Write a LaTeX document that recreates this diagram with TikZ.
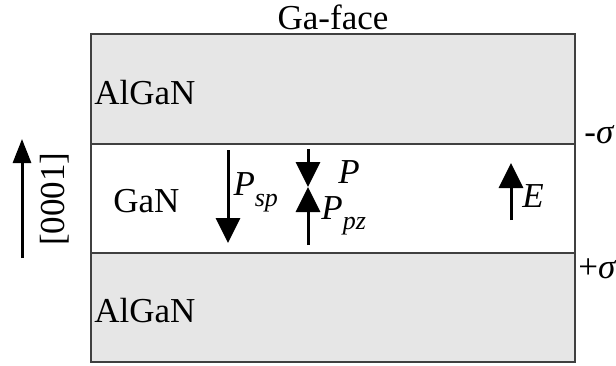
\documentclass[tikz,border=0pt]{standalone}
\usepackage{fontspec}
\setmainfont{Liberation Serif}
\usepackage{tikz}
\usetikzlibrary{arrows.meta}
\usetikzlibrary{positioning}
\definecolor{layergray}{RGB}{230,230,230}
\definecolor{edgegray}{RGB}{64,64,64}
\tikzset{x=0.5pt, y=-0.5pt, >={Triangle[width=12pt,length=12.5pt]}, font=\fontsize{17.5}{20}\selectfont}
\tikzstyle{layer} = [draw=edgegray, line width=1pt]
\tikzstyle{vec} = [->, line width=1.5pt]
\tikzstyle{lbl} = [inner sep=0pt, anchor=west]
\newcommand{\sub}[2]{\textit{#1}\raisebox{-0.3em}{\fontsize{13}{13}\selectfont\itshape #2}}

\begin{document}
\begin{tikzpicture}
		\useasboundingbox (0,0) rectangle (616,365);
		\draw [layer, fill=layergray] (91,34) rectangle (575,144);
		\draw [layer, fill=white] (91,144) rectangle (575,253);
		\draw [layer, fill=layergray] (91,253) rectangle (575,362);

		\node (face) at (333,17) {Ga-face};
		\node [lbl] (topal) at (94,93) {AlGaN};
		\node [lbl] (gan) at (113,201) {GaN};
		\node [lbl] (botal) at (94,311) {AlGaN};
		\node [lbl] (minus) at (584,135) {-\textit{σ}};
		\node [lbl] (plus) at (578,269) {+\textit{σ}};
		\node [rotate=90, inner sep=0pt] (dir) at (55,199) {[0001]};

		\coordinate (dir-s) at (22,258);
		\coordinate (dir-e) at (22,139);
		\coordinate (sp-s) at (228,150);
		\coordinate (sp-e) at (228,243);
		\coordinate (p-s) at (308,149);
		\coordinate (p-m) at (308,187);
		\coordinate (pz-s) at (308,245);
		\coordinate (e-s) at (511,220);
		\coordinate (e-e) at (511,163);

		\draw [->, line width=1.5pt, >={Triangle[width=9pt,length=12pt]}] (dir-s) -- (dir-e);
		\draw [vec] (sp-s) -- node [lbl, pos=0.5, xshift=2pt, yshift=2pt] (psp) {\sub{P}{sp}} (sp-e);
		\draw [vec] (p-s) -- (p-m);
		\draw [vec] (pz-s) -- (p-m);
		\draw [vec] (e-s) -- (e-e);

		\node [lbl] (ptot) at (338,172) {\textit{P}};
		\node [lbl] (ppz) at (321,216) {\sub{P}{pz}};
		\node [lbl] (efield) at (522,196) {\textit{E}};
	\end{tikzpicture}
\end{document}
